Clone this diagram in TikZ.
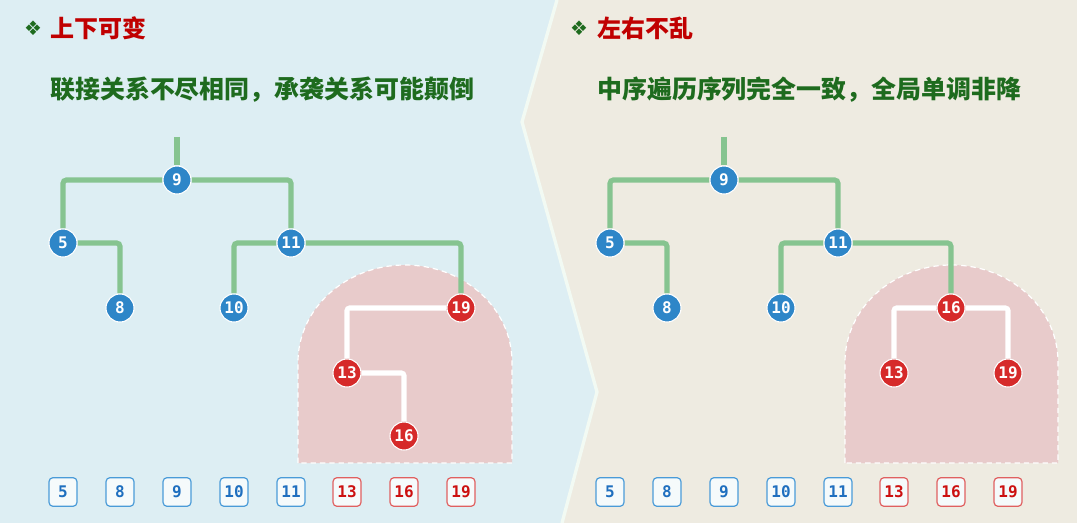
\documentclass[tikz,border=0pt]{standalone}
\usepackage{fontspec}
\newfontfamily\cjk{Noto Sans CJK SC}
\newfontfamily\numfont{DejaVu Sans Mono}
\newfontfamily\symfont{DejaVu Sans}
\definecolor{bgL}{HTML}{DDEEF3}
\definecolor{bgR}{HTML}{EEEBE1}
\definecolor{sepc}{HTML}{F2FAF3}
\definecolor{gln}{HTML}{86C490}
\definecolor{nblue}{HTML}{2E86C8}
\definecolor{nred}{HTML}{D62A2A}
\definecolor{regc}{HTML}{E8CBCB}
\definecolor{headred}{HTML}{C00000}
\definecolor{subgreen}{HTML}{1E6B1E}
\definecolor{bxblue}{HTML}{4A9BD8}
\definecolor{txblue}{HTML}{1F6FBF}
\definecolor{bxred}{HTML}{E06060}
\definecolor{txred}{HTML}{CC1010}
\pgfdeclarelayer{bg}
\pgfdeclarelayer{edge}
\pgfsetlayers{bg,edge,main}
\tikzset{
  bnode/.style={circle, fill=nblue, draw=white, line width=0.8pt, minimum size=21pt, inner sep=0pt, text=white, font=\numfont\bfseries\fontsize{12pt}{12pt}\selectfont},
  rnode/.style={bnode, fill=nred},
  gline/.style={draw=gln, line width=3.8pt, rounded corners=2.5pt},
  wline/.style={draw=white, line width=3.8pt, rounded corners=2pt,
    preaction={draw=black, draw opacity=0.25, transform canvas={shift={(0.8,1.6)}}}},
  region/.style={fill=regc, draw=white, dashed, line width=0.9pt, dash pattern=on 4pt off 3pt},
  bbox/.style={rectangle, rounded corners=3pt, minimum width=21pt, minimum height=21.5pt, inner sep=0pt, fill=white!70!bgL, draw=bxblue, line width=0.9pt, text=txblue, font=\numfont\bfseries\fontsize{12pt}{12pt}\selectfont},
  rbox/.style={bbox, draw=bxred, text=txred},
  headtxt/.style={anchor=west, inner sep=0pt, text=headred, font=\cjk\bfseries\fontsize{18pt}{18pt}\selectfont},
  subtxt/.style={anchor=west, inner sep=0pt, text=subgreen, font=\cjk\bfseries\fontsize{18.7pt}{18.7pt}\selectfont},
  bullet/.style={inner sep=0pt, text=subgreen, font=\symfont\fontsize{15pt}{15pt}\selectfont}
}
\begin{document}
\begin{tikzpicture}[x=0.75pt, y=-0.75pt]
\useasboundingbox (0,0) rectangle (1077,523);
\begin{pgfonlayer}{bg}
  \fill[bgR] (0,0) rectangle (1077,523);
  \fill[bgL] (0,0) -- (557,0) -- (522,122) -- (597,392) -- (562,523) -- (0,523) -- cycle;
  \draw[sepc, line width=2.5pt, line join=miter] (557,0) -- (522,122) -- (597,392) -- (562,523);
  % regions
  \draw[region] (298,463) -- (298,362) arc[start angle=180, end angle=360, x radius=107, y radius=97] -- (512,463) -- cycle;
  \draw[region] (845,463) -- (845,362) arc[start angle=180, end angle=360, x radius=106.5, y radius=97] -- (1058,463) -- cycle;
\end{pgfonlayer}

% headings
\node[bullet] (m1) at (33,28) {❖};
\node[headtxt] (h1) at (50,28) {上下可变};
\node[subtxt] (s1) at (50,90) {联接关系不尽相同，承袭关系可能颠倒};
\node[bullet] (m2) at (579,28) {❖};
\node[headtxt] (h2) at (597,28) {左右不乱};
\node[subtxt] (s2) at (597,90) {中序遍历序列完全一致，全局单调非降};

% left tree
\coordinate (rL) at (177,137);
\node[bnode] (a9) at (177,180) {9};
\node[bnode] (a5) at (63,243) {5};
\node[bnode] (a8) at (120,308) {8};
\node[bnode] (a11) at (291,243) {11};
\node[bnode] (a10) at (234,308) {10};
\node[rnode] (a19) at (461,308) {19};
\node[rnode] (a13) at (347,373) {13};
\node[rnode] (a16) at (404,436) {16};

% right tree
\coordinate (rR) at (724,137);
\node[bnode] (b9) at (724,180) {9};
\node[bnode] (b5) at (610,243) {5};
\node[bnode] (b8) at (667,308) {8};
\node[bnode] (b11) at (838,243) {11};
\node[bnode] (b10) at (781,308) {10};
\node[rnode] (b16) at (951,308) {16};
\node[rnode] (b13) at (894,373) {13};
\node[rnode] (b19) at (1008,373) {19};

\begin{pgfonlayer}{edge}
  \draw[gline] (rL) -- (a9);
  \draw[gline] (a9) -| (a5);
  \draw[gline] (a9) -| (a11);
  \draw[gline] (a5) -| (a8);
  \draw[gline] (a11) -| (a10);
  \draw[gline] (a11) -| (a19);
  \draw[wline] (a19) -| (a13);
  \draw[wline] (a13) -| (a16);
  \draw[gline] (rR) -- (b9);
  \draw[gline] (b9) -| (b5);
  \draw[gline] (b9) -| (b11);
  \draw[gline] (b5) -| (b8);
  \draw[gline] (b11) -| (b10);
  \draw[gline] (b11) -| (b16);
  \draw[wline] (b16) -| (b13);
  \draw[wline] (b16) -| (b19);
\end{pgfonlayer}

% sequences
\node[bbox] (p1) at (63,492) {5};
\node[bbox] (p2) at (120,492) {8};
\node[bbox] (p3) at (177,492) {9};
\node[bbox] (p4) at (234,492) {10};
\node[bbox] (p5) at (291,492) {11};
\node[rbox] (p6) at (347,492) {13};
\node[rbox] (p7) at (404,492) {16};
\node[rbox] (p8) at (461,492) {19};
\node[bbox] (q1) at (610,492) {5};
\node[bbox] (q2) at (667,492) {8};
\node[bbox] (q3) at (724,492) {9};
\node[bbox] (q4) at (781,492) {10};
\node[bbox] (q5) at (838,492) {11};
\node[rbox] (q6) at (894,492) {13};
\node[rbox] (q7) at (951,492) {16};
\node[rbox] (q8) at (1008,492) {19};
\end{tikzpicture}
\end{document}
